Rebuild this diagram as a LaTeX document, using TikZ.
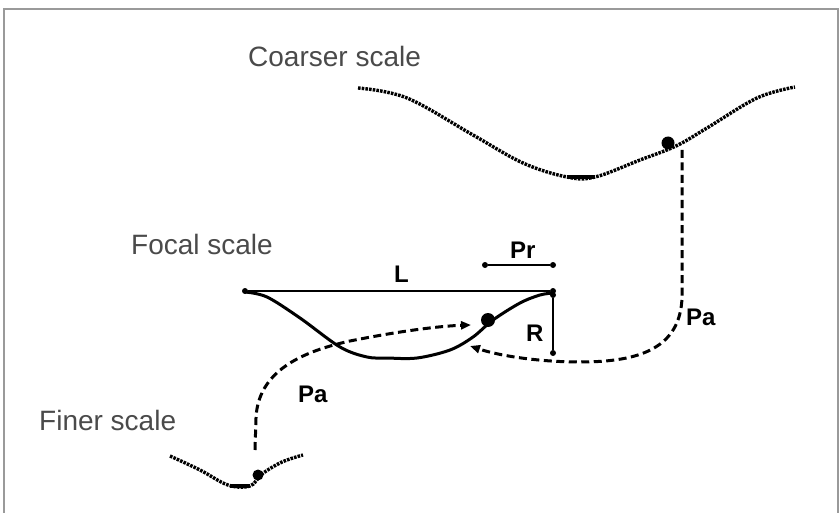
\documentclass[tikz,border=0pt]{standalone}
\usepackage{fontspec}
\setmainfont{Liberation Sans}
\usetikzlibrary{arrows.meta}
\definecolor{lblgray}{HTML}{4A4A4A}
\definecolor{framegray}{HTML}{9A9A9A}
\tikzset{
  scalelbl/.style={anchor=base west,inner sep=0pt,text=lblgray,font=\fontsize{28}{30}\selectfont},
  boldlbl/.style={anchor=base west,inner sep=0pt,font=\fontsize{24}{26}\selectfont\bfseries},
  texture/.style={line width=3.4pt,dash pattern=on 2.6pt off 1.1pt,line cap=butt},
  focalcurve/.style={line width=3pt,line cap=round,line join=round},
  paline/.style={line width=3pt,dash pattern=on 8pt off 4.5pt},
  thinline/.style={line width=1.4pt},
  enddot/.style={circle,fill=black,inner sep=0pt,minimum size=6pt},
  bigdot/.style={circle,fill=black,inner sep=0pt,minimum size=13pt},
  patip/.style={-{Triangle[length=10pt,width=8pt]}}
}
\begin{document}
\begin{tikzpicture}[x=1pt,y=-1pt]
\useasboundingbox (0,0) rectangle (840,513);
% frame
\draw[framegray,line width=1.8pt] (4,514) -- (4,9) -- (838,9) -- (838,514);

% labels
\node[scalelbl] (coarselbl) at (248,67) {Coarser scale};
\node[scalelbl] (focallbl) at (131,254) {Focal scale};
\node[scalelbl] (finerlbl) at (39,430) {Finer scale};

% coarser curve
\draw[texture] plot[smooth,tension=0.6] coordinates {(358,88) (407,98) (473,135) (523,163) (567,177) (595,177) (640,160) (676,146) (707,128) (757,98) (795,87)};
\draw[line width=4pt] (567,177) -- (595,177);
\node[bigdot] (cdot) at (668,143) {};
\coordinate (ctop) at (682,150);

% finer curve
\draw[texture] plot[smooth,tension=0.6] coordinates {(170,456) (200,470) (228,485) (250,486) (262,474) (282,462) (303,455)};
\draw[line width=4pt] (230,486) -- (250,486);
\node[bigdot,minimum size=11pt] (fdot) at (258,475) {};
\coordinate (fstart) at (255,450);

% focal curve
\draw[focalcurve] plot[smooth,tension=0.55] coordinates {(245,292) (267,297) (300,318) (340,347) (367,357) (387,358) (417,358) (450,350) (473,337) (493,320) (520,303) (540,295) (553,293)};
\node[bigdot,minimum size=14pt] (focdot) at (488,320) {};

% L line
\node[enddot] (la) at (245,291) {};
\node[enddot] (lb) at (553,291) {};
\draw[thinline] (la) -- (lb);
\node[boldlbl] (Llbl) at (394,282) {L};

% Pr line
\node[enddot] (pra) at (485,265) {};
\node[enddot] (prb) at (553,265) {};
\draw[thinline] (pra) -- (prb);
\node[boldlbl] (Prlbl) at (510,258) {Pr};

% R line
\node[enddot] (ra) at (553,295) {};
\node[enddot] (rb) at (553,353) {};
\draw[thinline] (ra) -- (rb);
\node[boldlbl] (Rlbl) at (526,341) {R};

% Pa paths
\coordinate (tipleft) at (471,325);
\coordinate (tipright) at (470,346);
\draw[paline,patip] (fstart) -- (256,418) .. controls (258,372) and (300,352) .. (350,341) .. controls (400,331) and (440,326) .. (tipleft);
\draw[paline,patip] (ctop) -- (682,298) .. controls (680,348) and (640,362) .. (580,362) .. controls (540,362) and (500,356) .. (tipright);
\node[boldlbl] (paright) at (686,325) {Pa};
\node[boldlbl] (paleft) at (298,402) {Pa};
\end{tikzpicture}
\end{document}
